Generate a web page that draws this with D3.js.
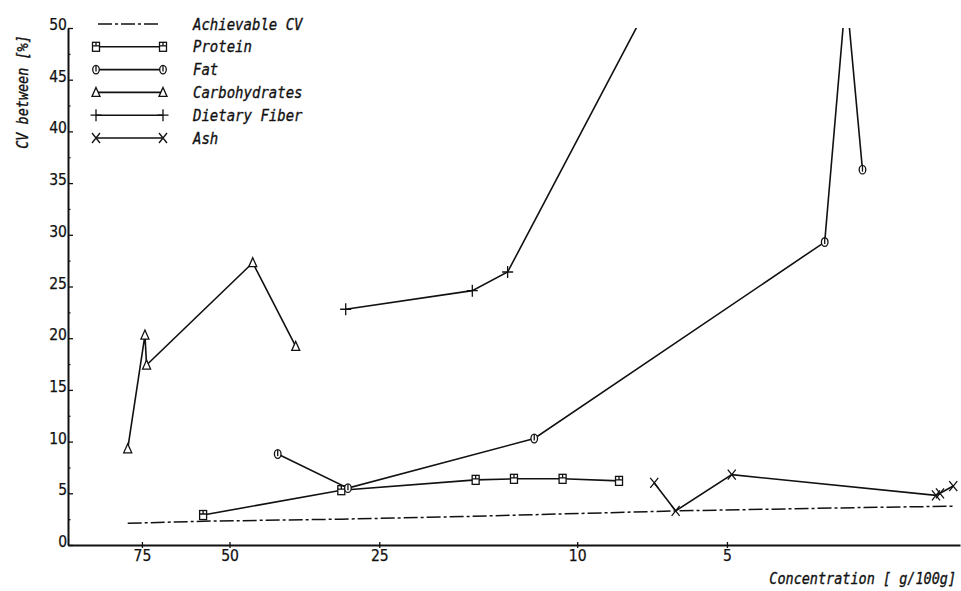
<!DOCTYPE html>
<html><head><meta charset="utf-8">
<script src="https://cdn.jsdelivr.net/npm/d3@7"></script>
<style>
body{margin:0;background:#fff}
svg{display:block}
.tl{font-family:"Liberation Sans Narrow","Arial Narrow","DejaVu Sans Condensed",sans-serif;font-size:15.5px;fill:#111;stroke:#111;stroke-width:0.25px}
.mono{font-family:"DejaVu Sans Mono","Liberation Mono",monospace;font-style:oblique;fill:#111;stroke:#111;stroke-width:0.3px}
</style></head>
<body><svg id="c" width="961" height="591"></svg>
<script>
// ---- data ----
const seriesNames = ["Achievable CV","Protein","Fat","Carbohydrates","Dietary Fiber","Ash"];
const achievableX = [80.1, 56.5, 29.8, 17, 6.3, 2.5, 1.75];
const achievableY = [2.1, 2.3, 2.5, 2.75, 3.3, 3.65, 3.75];
const proteinX = [56.5, 29.8, 16.0, 13.4, 10.7, 8.24];
const proteinY = [2.9, 5.3, 6.3, 6.4, 6.4, 6.2];
const fatX = [40.0, 28.9, 12.2, 3.18, 2.88, 2.67];
const fatY = [8.8, 5.5, 10.3, 29.3, 53.5, 36.3];
const carbX = [80.1, 73.96, 73.4, 44.9, 36.8];
const carbY = [9.3, 20.3, 17.4, 27.3, 19.2];
const fiberX = [29.2, 16.25, 13.8, 7.0];
const fiberY = [22.8, 24.6, 26.4, 53.3];
const ashX = [7.0, 6.34, 4.89, 1.90, 1.865, 1.754];
const ashY = [6.0, 3.3, 6.8, 4.8, 5.0, 5.7];
const xTicks = [75, 50, 25, 10, 5];
const yTicks = [0, 5, 10, 15, 20, 25, 30, 35, 40, 45, 50];
const yMinorTicks = [2.5, 7.5, 12.5, 17.5, 22.5, 27.5, 32.5, 37.5, 42.5, 47.5];
const xTitle = "Concentration [ g/100g]";
const yTitle = "CV between [%]";

// ---- drawing ----
const svg = d3.select("#c");
const L = 68, R = 960, T = 28, B = 545;
const x = d3.scaleLog().domain([105.6, 1.70]).range([L, R]);
const y = d3.scaleLinear().domain([0, 50]).range([B, T]);

svg.append("defs").append("clipPath").attr("id","clip")
  .append("rect").attr("x", L).attr("y", T).attr("width", R - L).attr("height", B - T);

const ink = "#111";

// axes
const yAxis = svg.append("g").attr("transform", `translate(${L},0)`)
  .call(d3.axisLeft(y).tickValues(yTicks).tickSizeInner(-5).tickSizeOuter(0).tickPadding(1).tickFormat(d3.format("d")));
yAxis.selectAll("text").attr("class","tl").attr("dy","0.1em");
yAxis.select(".domain").attr("stroke", ink).attr("stroke-width", 2);
yAxis.selectAll(".tick line").attr("stroke", ink).attr("stroke-width", 1.3);
svg.append("g").attr("transform", `translate(${L},0)`)
  .call(d3.axisLeft(y).tickValues(yMinorTicks).tickSizeInner(-2.5).tickSizeOuter(0).tickFormat(""))
  .call(g => g.select(".domain").remove())
  .selectAll("line").attr("stroke", ink).attr("stroke-width", 1.2);

const xAxis = svg.append("g").attr("transform", `translate(0,${B})`)
  .call(d3.axisBottom(x).tickValues(xTicks).tickSizeInner(3).tickSizeOuter(0).tickPadding(2).tickFormat(d3.format("d")));
xAxis.selectAll("text").attr("class","tl");
xAxis.select(".domain").attr("stroke", ink).attr("stroke-width", 2.2);
xAxis.selectAll(".tick line").attr("stroke", ink).attr("stroke-width", 1.3).attr("y1", -3);

// titles
svg.append("text").attr("class","mono").attr("font-size", 13.5)
  .attr("transform","translate(956,584) scale(1,1.15)").attr("text-anchor","end").text(xTitle);
svg.append("text").attr("class","mono").attr("font-size", 13.5)
  .attr("transform","translate(28,92) rotate(-90) scale(1,1.15)").attr("text-anchor","middle").text(yTitle);

// marker shapes
function marker(g, type) {
  const p = g.append("g").attr("fill","none").attr("stroke", ink).attr("stroke-width", 1.3);
  if (type === "square") {
    p.append("rect").attr("x",-3.5).attr("y",-4.5).attr("width",7).attr("height",9).attr("fill","#fff");
    p.append("path").attr("d","M-3.5,-1 H3.5 M0,-4.5 V-1");
  } else if (type === "circle") {
    p.append("ellipse").attr("rx",3.3).attr("ry",4.3).attr("fill","#fff");
    p.append("path").attr("d","M0,-4 V2");
  } else if (type === "triangle") {
    p.append("path").attr("d","M0,-5 L4,4 L-4,4 Z").attr("fill","#fff");
  } else if (type === "plus") {
    p.append("path").attr("d","M-5.5,0 H5.5 M0,-6 V6");
  } else if (type === "x") {
    p.append("path").attr("d","M-4,-5 L4,5 M4,-5 L-4,5");
  }
}

const line = d3.line().x(d => x(d[0])).y(d => y(d[1]));
const plot = svg.append("g").attr("clip-path","url(#clip)");

const series = [
  {xs: achievableX, ys: achievableY, m: null, dash: "14,3,3,3"},
  {xs: proteinX, ys: proteinY, m: "square"},
  {xs: fatX, ys: fatY, m: "circle"},
  {xs: carbX, ys: carbY, m: "triangle"},
  {xs: fiberX, ys: fiberY, m: "plus"},
  {xs: ashX, ys: ashY, m: "x"}
];

series.forEach(s => {
  const pts = s.xs.map((v, i) => [v, s.ys[i]]);
  plot.append("path").datum(pts).attr("d", line)
    .attr("fill","none").attr("stroke", ink).attr("stroke-width", s.dash ? 1.5 : 1.6)
    .attr("stroke-dasharray", s.dash || null);
  if (s.m) {
    pts.filter(d => d[1] <= 50).forEach(d => {
      marker(plot.append("g").attr("transform", `translate(${x(d[0])},${y(d[1])})`), s.m);
    });
  }
});

// legend
const legX1 = 96, legX2 = 163, legTextX = 193;
seriesNames.forEach((name, i) => {
  const cy = 24 + i * 22.8;
  const s = series[i];
  if (s.dash) {
    svg.append("line").attr("x1", 98).attr("x2", 160).attr("y1", cy).attr("y2", cy)
      .attr("stroke", ink).attr("stroke-width", 1.5).attr("stroke-dasharray", "14,3,3,3");
  } else {
    svg.append("line").attr("x1", legX1).attr("x2", legX2).attr("y1", cy).attr("y2", cy)
      .attr("stroke", ink).attr("stroke-width", 1.6);
    marker(svg.append("g").attr("transform", `translate(${legX1},${cy})`), s.m);
    marker(svg.append("g").attr("transform", `translate(${legX2},${cy})`), s.m);
  }
  svg.append("text").attr("class","mono").attr("font-size", 14)
    .attr("transform", `translate(${legTextX},${cy + 5.5}) scale(1,1.15)`).text(name);
});
</script>
</body></html>
